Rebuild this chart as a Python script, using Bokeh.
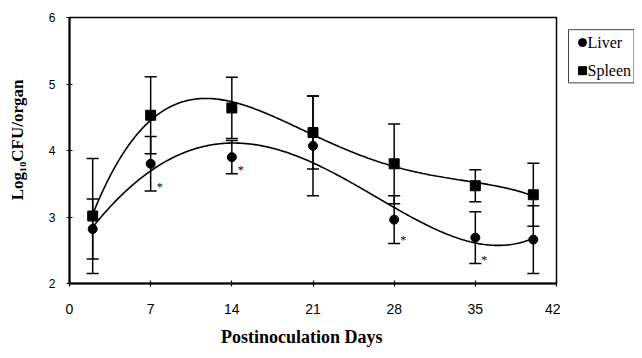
import numpy as np
from bokeh.plotting import figure
from bokeh.models import ColumnDataSource, Whisker, TeeHead, FixedTicker, Range1d
from bokeh.layouts import row
from bokeh.embed import file_html
from bokeh.resources import INLINE
from bokeh.core.properties import value

# ---- data ----
days = [2, 7, 14, 21, 28, 35, 40]
liver = [2.82, 3.80, 3.90, 4.07, 2.96, 2.69, 2.66]
liver_err = [0.45, 0.41, 0.25, 0.75, 0.36, 0.39, 0.51]
spleen = [3.015, 4.53, 4.64, 4.27, 3.80, 3.47, 3.335]
spleen_err = [0.865, 0.58, 0.46, 0.55, 0.60, 0.24, 0.475]
star_days = [7, 14, 28, 35]
x_ticks = [0, 7, 14, 21, 28, 35, 42]
y_ticks = [2, 3, 4, 5, 6]
series_names = ["Liver", "Spleen"]
x_title = "Postinoculation Days"
y_title = "Log\u2081\u2080CFU/organ"

SERIF = "Liberation Serif"
SANS = "Liberation Sans"
NB = "\u00a0"

p = figure(width=560, height=350, x_range=Range1d(0, 42), y_range=Range1d(2, 6),
           output_backend="svg", toolbar_location=None,
           min_border_left=69, min_border_right=4, min_border_top=17, min_border_bottom=67)
p.background_fill_color = "white"
p.border_fill_color = "white"
p.outline_line_color = "black"
p.outline_line_width = 1.5
p.xgrid.visible = False
p.ygrid.visible = False

p.xaxis.ticker = FixedTicker(ticks=x_ticks)
p.yaxis.ticker = FixedTicker(ticks=y_ticks)
for ax in (p.xaxis, p.yaxis):
    ax.axis_line_width = 2
    ax.axis_line_color = "black"
    ax.major_tick_line_color = "black"
    ax.major_tick_line_width = 1.2
    ax.major_tick_in = 3
    ax.major_tick_out = 3
    ax.minor_tick_line_color = None
    ax.major_label_text_font = SANS
    ax.major_label_text_color = "black"
    ax.axis_label_text_font = SERIF
    ax.axis_label_text_font_style = "bold"
    ax.axis_label_text_color = "black"
p.xaxis.major_label_text_font_size = "14px"
p.yaxis.major_label_text_font_size = "12px"
p.xaxis.major_label_standoff = 17
p.yaxis.major_label_standoff = 11

p.xaxis.axis_label = x_title + NB * 5
p.xaxis.axis_label_text_font_size = "18px"
p.xaxis.axis_label_standoff = 10
p.yaxis.axis_label = NB * 5 + y_title
p.yaxis.axis_label_text_font_size = "17px"
p.yaxis.axis_label_standoff = 19

# trendlines (polynomial fits of the data, as in the original)
xs = np.linspace(min(days), max(days), 300)
for vals in (liver, spleen):
    c = np.polyfit(days, vals, 4)
    p.line(xs, np.polyval(c, xs), line_color="black", line_width=1.6)

# error bars
def add_err(vals, errs):
    src = ColumnDataSource(dict(x=days,
                                lower=[v - e for v, e in zip(vals, errs)],
                                upper=[v + e for v, e in zip(vals, errs)]))
    w = Whisker(base="x", upper="upper", lower="lower", source=src, dimension="height",
                line_color="black", line_width=1.5,
                upper_head=TeeHead(size=12, line_width=1.5, line_color="black"),
                lower_head=TeeHead(size=12, line_width=1.5, line_color="black"))
    p.add_layout(w)

add_err(spleen, spleen_err)
add_err(liver, liver_err)

p.scatter(days, spleen, marker="square", size=10, fill_color="black", line_color="black")
p.scatter(days, liver, marker="circle", size=9, fill_color="black", line_color="black")

# significance stars next to lower liver caps
lower_map = {d: v - e for d, v, e in zip(days, liver, liver_err)}
p.text(x=star_days, y=[lower_map[d] + 0.06 for d in star_days], text=["*"] * len(star_days),
       x_offset=9, text_font=value(SERIF), text_font_size="12px",
       text_align="center", text_baseline="middle", text_color="black")

# legend panel
lg = figure(width=74, height=350, x_range=Range1d(0, 74), y_range=Range1d(350, 0),
            output_backend="svg", toolbar_location=None, min_border=0)
lg.outline_line_color = None
lg.axis.visible = False
lg.grid.visible = False
lg.quad(left=[8], right=[73.5], top=[16], bottom=[86], fill_color="white",
        line_color="#444444", line_width=1)
lg.scatter(x=[22, 22], y=[33, 70], marker=["circle", "square"], size=8,
           fill_color="black", line_color="black")
lg.text(x=[27, 27], y=[33, 70], text=series_names, text_font=value(SERIF),
        text_font_size="16px", text_baseline="middle", text_color="black")

layout = row(p, lg)
open("out.html", "w").write(file_html(layout, INLINE))
